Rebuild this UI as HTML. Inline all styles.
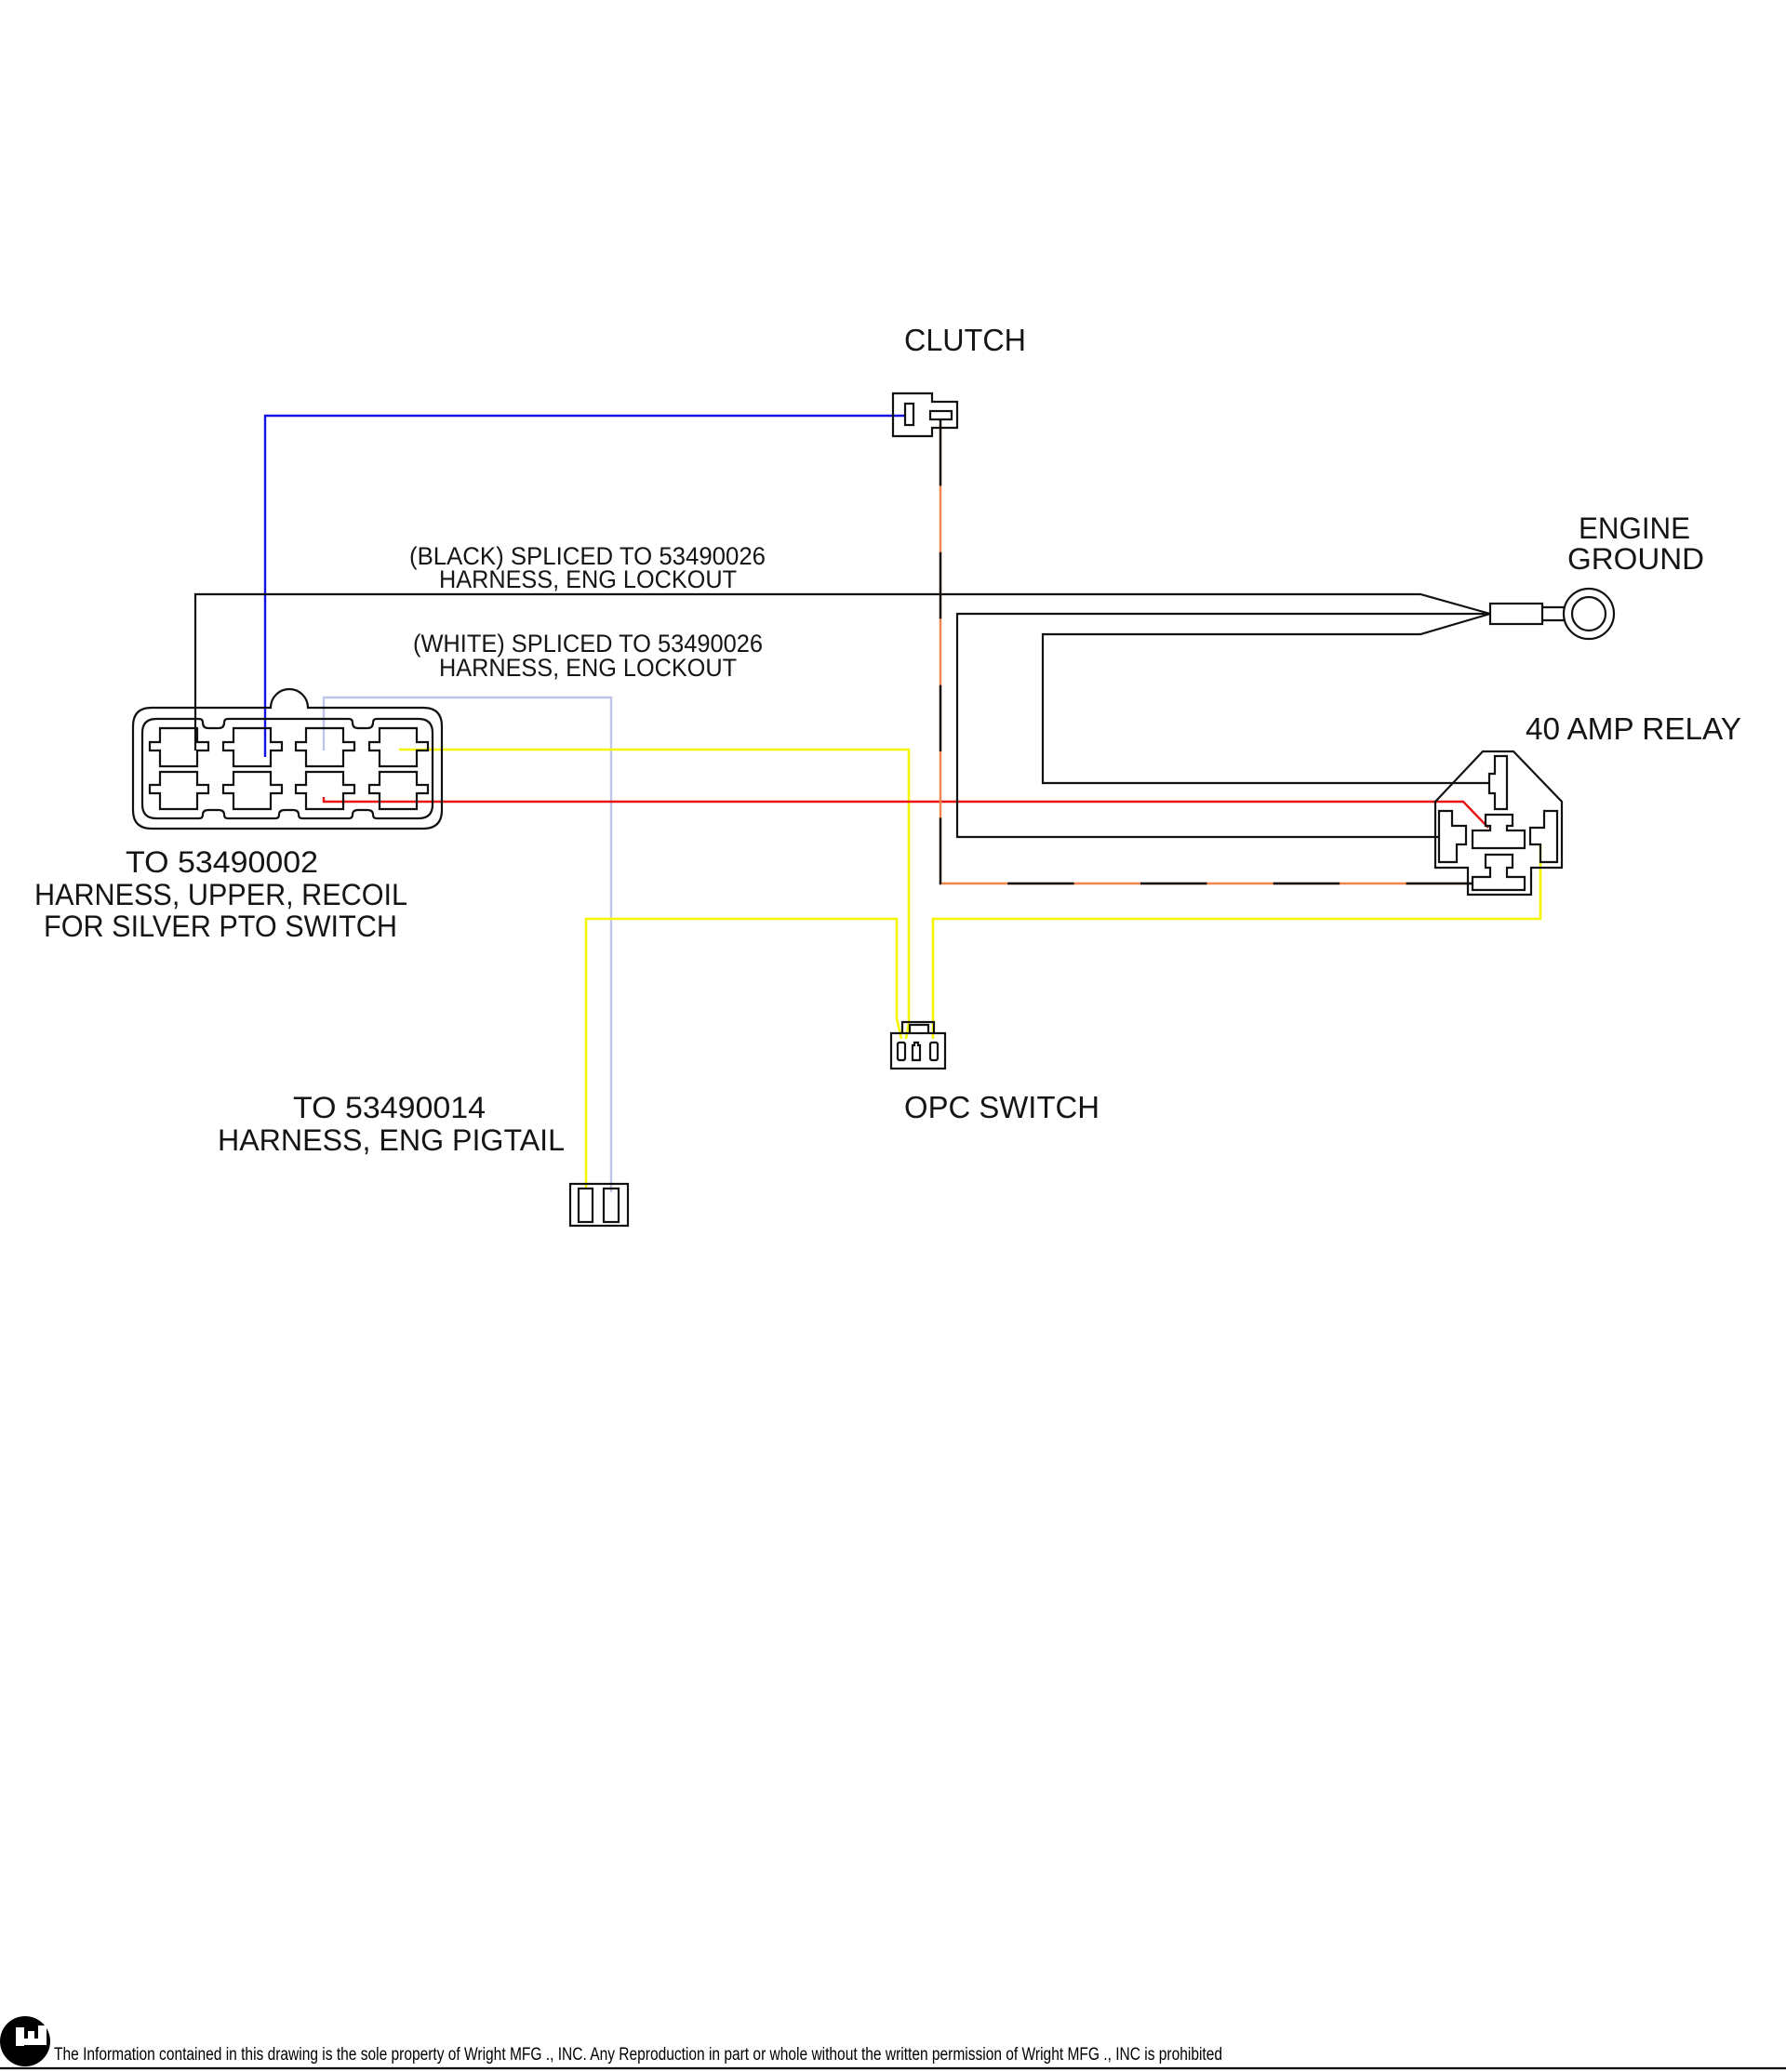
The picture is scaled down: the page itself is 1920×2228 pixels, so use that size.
<!DOCTYPE html>
<html>
<head>
<meta charset="utf-8">
<style>
  html, body { margin: 0; padding: 0; background: #ffffff; }
  body { width: 1920px; height: 2228px; overflow: hidden; }
  svg { display: block; }
  .lbl { font-family: "Liberation Sans", Arial, sans-serif; fill: #151515; }
</style>
</head>
<body>
<svg width="1920" height="2228" viewBox="0 0 1920 2228" xmlns="http://www.w3.org/2000/svg">
  <rect x="0" y="0" width="1920" height="2228" fill="#ffffff"/>

  <!-- ===================== WIRES ===================== -->
  <g fill="none" stroke-width="2.4" stroke-linejoin="miter" stroke-linecap="butt">
    <!-- blue: 8-pin col2 -> clutch -->
    <path d="M285,814 V447 H973" stroke="#1212e6"/>
    <!-- black: 8-pin col1 -> engine ground -->
    <path d="M210,807 V639 H1527 L1602,660" stroke="#111111" stroke-width="2.2"/>
    <!-- lavender (white): 8-pin col3 -> pigtail -->
    <path d="M348,807 V750 H657 V1282" stroke="#c0c4ea"/>
    <!-- yellow: 8-pin col4 -> OPC -->
    <path d="M429,806 H977 V1100 L974,1117" stroke="#f5f500" stroke-width="2.6"/>
    <!-- red: 8-pin col3 bottom -> relay center -->
    <path d="M348,857 V862 H1573 L1600,890" stroke="#e81414"/>
    <!-- yellow: pigtail -> OPC -->
    <path d="M630,1278 V988 H964 V1095 L969,1117" stroke="#f5f500" stroke-width="2.6"/>
    <!-- yellow: relay -> OPC -->
    <path d="M1656,908 V988 H1003 V1117" stroke="#f5f500" stroke-width="2.6"/>
    <!-- ground middle line -> relay left terminal -->
    <path d="M1602,660 H1029 V900 H1547" stroke="#111111" stroke-width="2.2"/>
    <!-- ground bottom line -> relay top terminal -->
    <path d="M1602,660 L1527,682 H1121 V842 H1601" stroke="#111111" stroke-width="2.2"/>
    <!-- orange/black striped: clutch -> relay bottom -->
    <path d="M1011,451 V950 H1583" stroke="#f2844c" stroke-width="2.4"/>
    <path d="M1011,451 V950 H1583" stroke="#111111" stroke-width="2.4" stroke-dasharray="71.4 71.4"/>
  </g>

  <!-- ===================== COMPONENTS ===================== -->
  <g fill="none" stroke="#111111" stroke-width="2.2" stroke-linejoin="miter">
    <!-- 8-pin connector outer with hump -->
    <path d="M163,761 H291 A20,20 0 0 1 331,761 H455 Q475,761 475,781 V871 Q475,891 455,891 H163 Q143,891 143,871 V781 Q143,761 163,761 Z"/>
    <!-- inner outline with notches -->
    <path d="M168,773 H214 Q218,773 218,777 Q218,783 224,783 H235 Q241,783 241,777 Q241,773 245,773
             H375 Q379,773 379,777 Q379,783 385,783 H395 Q401,783 401,777 Q401,773 405,773
             H450 Q465,773 465,788 V865 Q465,880 450,880
             H405 Q401,880 401,876 Q401,871 395,871 H385 Q379,871 379,876 Q379,880 375,880
             H325 Q321,880 321,876 Q321,871 315,871 H306 Q300,871 300,876 Q300,880 296,880
             H245 Q241,880 241,876 Q241,871 235,871 H224 Q218,871 218,876 Q218,880 214,880
             H168 Q153,880 153,865 V788 Q153,773 168,773 Z"/>
    <!-- cells top row -->
    <path d="M172,783 H212 V798 H224 V807 H212 V824 H172 V807 H161 V798 H172 Z"/>
    <path d="M251,783 H291 V798 H303 V807 H291 V824 H251 V807 H240 V798 H251 Z"/>
    <path d="M329,783 H369 V798 H381 V807 H369 V824 H329 V807 H318 V798 H329 Z"/>
    <path d="M408,783 H448 V798 H460 V807 H448 V824 H408 V807 H397 V798 H408 Z"/>
    <!-- cells bottom row -->
    <path d="M172,830 H212 V844 H224 V853 H212 V870 H172 V853 H161 V844 H172 Z"/>
    <path d="M251,830 H291 V844 H303 V853 H291 V870 H251 V853 H240 V844 H251 Z"/>
    <path d="M329,830 H369 V844 H381 V853 H369 V870 H329 V853 H318 V844 H329 Z"/>
    <path d="M408,830 H448 V844 H460 V853 H448 V870 H408 V853 H397 V844 H408 Z"/>

    <!-- clutch connector -->
    <path d="M960,423 H1002 V432 H1029 V460 H1002 V469 H960 Z"/>
    <rect x="973" y="434" width="9" height="23"/>
    <rect x="1000" y="442" width="23" height="9"/>

    <!-- engine ground terminal -->
    <rect x="1602" y="649" width="56" height="22"/>
    <path d="M1658,653 H1683 M1658,667 H1683"/>
    <circle cx="1708" cy="660" r="27"/>
    <circle cx="1708" cy="660" r="18"/>

    <!-- 40 amp relay -->
    <path d="M1594,808 H1627 L1679,862 V933 H1646 V962 H1578 V933 H1543 V862 Z"/>
    <path d="M1607,813 H1620 V870 H1607 V853 H1601 V832 H1607 Z"/>
    <path d="M1547,872 H1561 V888 H1576 V908 H1566 V927 H1547 Z"/>
    <path d="M1597,876 H1626 V888 H1620 V893 H1639 V912 H1583 V893 H1602 V888 H1597 Z"/>
    <path d="M1660,872 H1674 V927 H1656 V908 H1645 V890 H1660 Z"/>
    <path d="M1597,919 H1626 V933 H1620 V943 H1639 V957 H1583 V943 H1602 V933 H1597 Z"/>

    <!-- OPC switch -->
    <rect x="958" y="1111" width="58" height="38"/>
    <path d="M970,1111 V1099 H1004 V1111"/>
    <path d="M978,1111 V1102 H998 V1111"/>
    <rect x="965" y="1121" width="8" height="19" rx="2"/>
    <path d="M981,1140 V1124 H983 V1121 H987 V1124 H989 V1140 Z"/>
    <rect x="1000" y="1121" width="8" height="19" rx="2"/>

    <!-- pigtail connector -->
    <rect x="613" y="1273" width="62" height="45"/>
    <rect x="622" y="1278" width="15" height="36"/>
    <rect x="649" y="1278" width="16" height="36"/>
  </g>

  <!-- ===================== LABELS ===================== -->
  <text class="lbl" x="972" y="377" font-size="33" textLength="131" lengthAdjust="spacingAndGlyphs">CLUTCH</text>

  <text class="lbl" x="1697" y="579" font-size="32" textLength="120" lengthAdjust="spacingAndGlyphs">ENGINE</text>
  <text class="lbl" x="1685" y="612" font-size="32" textLength="147" lengthAdjust="spacingAndGlyphs">GROUND</text>

  <text class="lbl" x="1640" y="795" font-size="33" textLength="232" lengthAdjust="spacingAndGlyphs">40 AMP RELAY</text>

  <text class="lbl" x="440" y="607" font-size="27" textLength="383" lengthAdjust="spacingAndGlyphs">(BLACK) SPLICED TO 53490026</text>
  <text class="lbl" x="472" y="632" font-size="27" textLength="320" lengthAdjust="spacingAndGlyphs">HARNESS, ENG LOCKOUT</text>

  <text class="lbl" x="444" y="701" font-size="27" textLength="376" lengthAdjust="spacingAndGlyphs">(WHITE) SPLICED TO 53490026</text>
  <text class="lbl" x="472" y="727" font-size="27" textLength="320" lengthAdjust="spacingAndGlyphs">HARNESS, ENG LOCKOUT</text>

  <text class="lbl" x="135" y="938" font-size="32" textLength="207" lengthAdjust="spacingAndGlyphs">TO 53490002</text>
  <text class="lbl" x="37" y="973" font-size="32" textLength="401" lengthAdjust="spacingAndGlyphs">HARNESS, UPPER, RECOIL</text>
  <text class="lbl" x="47" y="1007" font-size="32" textLength="380" lengthAdjust="spacingAndGlyphs">FOR SILVER PTO SWITCH</text>

  <text class="lbl" x="972" y="1202" font-size="33" textLength="210" lengthAdjust="spacingAndGlyphs">OPC SWITCH</text>

  <text class="lbl" x="315" y="1202" font-size="32" textLength="207" lengthAdjust="spacingAndGlyphs">TO 53490014</text>
  <text class="lbl" x="234" y="1237" font-size="32" textLength="373" lengthAdjust="spacingAndGlyphs">HARNESS, ENG PIGTAIL</text>

  <!-- ===================== FOOTER ===================== -->
  <circle cx="27" cy="2195" r="27" fill="#000000"/>
  <g fill="#ffffff">
    <rect x="17" y="2180" width="9" height="20"/>
    <rect x="17" y="2192" width="33" height="7"/>
    <rect x="30" y="2184" width="7" height="12"/>
    <rect x="41" y="2178" width="9" height="18"/>
  </g>
  <text x="58" y="2215" font-family="'Liberation Sans Narrow', 'Liberation Sans', Arial, sans-serif" font-size="19" fill="#000000" textLength="1256" lengthAdjust="spacingAndGlyphs">The Information contained in this drawing is the sole property of Wright MFG ., INC. Any Reproduction in part or whole without the written permission of Wright MFG ., INC is prohibited</text>
  <line x1="0" y1="2224" x2="1920" y2="2224" stroke="#000000" stroke-width="2.2"/>
</svg>
</body>
</html>
